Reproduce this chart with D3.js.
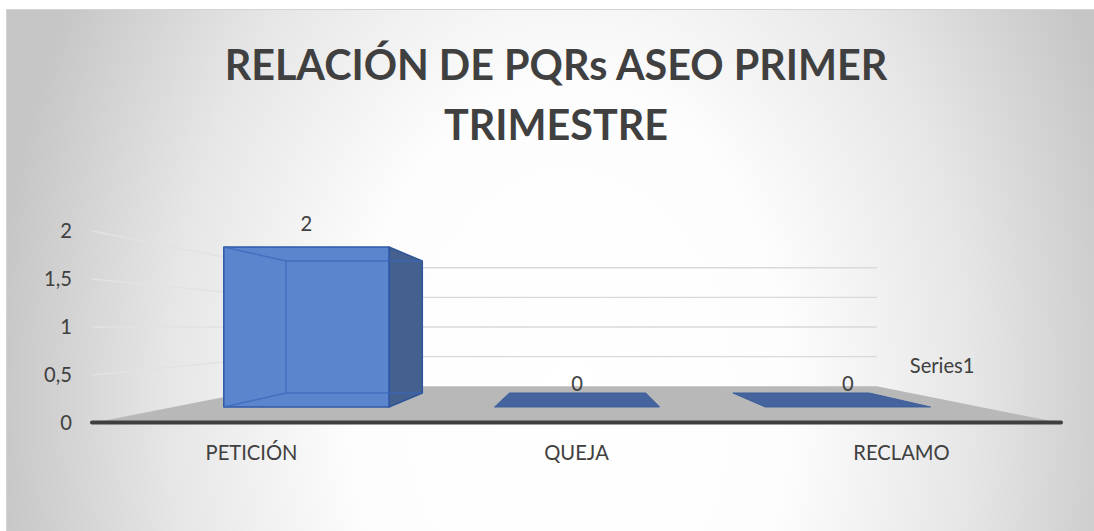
<!DOCTYPE html>
<html>
<head>
<meta charset="utf-8">
<script src="https://cdn.jsdelivr.net/npm/d3@7"></script>
<style>
  body { margin: 0; background: #fff; }
  svg { display: block; }
</style>
</head>
<body>
<div id="chart"></div>
<script>
// chart data
const titleLines = ['RELACIÓN DE PQRs ASEO PRIMER', 'TRIMESTRE'];
const categories = ['PETICIÓN', 'QUEJA', 'RECLAMO'];
const values = [2, 0, 0];
const yTicks = [0, 0.5, 1, 1.5, 2];
const seriesName = 'Series1';

const W = 1094, H = 531;
const FONT = 'Lato, "Open Sans", sans-serif';

// simple perspective: points of the front plane shrink toward (vx, vy)
const vx = 580, vy = 327;
const sWall = 0.617, sBarFront = 0.833, sBarBack = 0.6875;
const floorLeft = 92, floorRight = 1061;
const P = (x0, y0, s) => [vx + (x0 - vx) * s, vy + (y0 - vy) * s];

const locale = d3.formatLocale({ decimal: ',', thousands: '.', grouping: [3], currency: ['$', ''] });
const fmt = locale.format('~g');

const svg = d3.select('#chart').append('svg')
  .attr('width', W)
  .attr('height', H);

const defs = svg.append('defs');
const bg = defs.append('radialGradient')
  .attr('id', 'bg')
  .attr('gradientUnits', 'userSpaceOnUse')
  .attr('cx', 0).attr('cy', 0).attr('r', 1)
  .attr('gradientTransform', 'translate(570,400) scale(575,820)');
bg.append('stop').attr('offset', 0).attr('stop-color', '#ffffff');
bg.append('stop').attr('offset', 0.38).attr('stop-color', '#fdfdfd');
bg.append('stop').attr('offset', 0.7).attr('stop-color', '#e6e6e6');
bg.append('stop').attr('offset', 1).attr('stop-color', '#c6c6c6');

svg.append('rect')
  .attr('x', 6.5).attr('y', 9.5)
  .attr('width', W).attr('height', H)
  .attr('fill', 'url(#bg)')
  .attr('stroke', '#d4d4d4');

function fitSize(text, weight, target) {
  const t = svg.append('text')
    .attr('font-family', FONT)
    .attr('font-weight', weight)
    .attr('font-size', 100)
    .text(text);
  const w = t.node().getComputedTextLength();
  t.remove();
  return 100 * target / w;
}

const titleSize = fitSize(titleLines[0], 'bold', 663);
const labelSize = fitSize(categories[0], 'normal', 92);

// title
svg.append('g').selectAll('text')
  .data(titleLines)
  .join('text')
  .attr('x', 556)
  .attr('y', (d, i) => 80 + i * 60)
  .attr('text-anchor', 'middle')
  .attr('font-family', FONT)
  .attr('font-weight', 'bold')
  .attr('font-size', titleSize)
  .attr('fill', '#404040')
  .text(d => d);

const x = d3.scaleBand()
  .domain(categories)
  .range([89, 1064])
  .paddingInner(0.39)
  .paddingOuter(0.195);

const y = d3.scaleLinear()
  .domain([0, 2])
  .range([423, 231]);

const line = d3.line();

// gridlines on side wall and back wall
const grid = svg.append('g');
grid.selectAll('path.side')
  .data(yTicks.filter(t => t > 0))
  .join('path')
  .attr('class', 'side')
  .attr('d', t => line([P(floorLeft, y(t), 1), P(floorLeft, y(t), sWall)]))
  .attr('stroke', '#e2e2e2')
  .attr('stroke-width', 1.6)
  .attr('fill', 'none');
grid.selectAll('path.back')
  .data(yTicks.filter(t => t > 0))
  .join('path')
  .attr('class', 'back')
  .attr('d', t => line([P(floorLeft, y(t), sWall), P(floorRight, y(t), sWall)]))
  .attr('stroke', '#d9d9d9')
  .attr('stroke-width', 1.4)
  .attr('fill', 'none');

// floor
svg.append('path')
  .attr('d', line([
    P(floorLeft, y(0), 1), P(floorLeft, y(0), sWall),
    P(floorRight, y(0), sWall), P(floorRight, y(0), 1)
  ]) + 'Z')
  .attr('fill', '#b8b8b8');

svg.append('line')
  .attr('x1', floorLeft).attr('x2', floorRight)
  .attr('y1', y(0) - 0.5).attr('y2', y(0) - 0.5)
  .attr('stroke', '#3f3f3f')
  .attr('stroke-width', 4)
  .attr('stroke-linecap', 'round');

// bars
const bars = svg.append('g').selectAll('g')
  .data(categories.map((c, i) => ({ c, v: values[i] })))
  .join('g');

bars.each(function(d) {
  const g = d3.select(this);
  const a = x(d.c), b = x(d.c) + x.bandwidth();
  const yt = y(d.v), yb = y(0);
  const poly = pts => line(pts) + 'Z';

  if (d.v === 0) {
    g.append('path')
      .attr('d', poly([P(a, yb, sBarFront), P(a, yb, sBarBack), P(b, yb, sBarBack), P(b, yb, sBarFront)]))
      .attr('fill', '#45649d')
      .attr('stroke', '#3d5e9c')
      .attr('stroke-width', 1);
    return;
  }

  // right side face
  g.append('path')
    .attr('d', poly([P(b, yt, sBarFront), P(b, yt, sBarBack), P(b, yb, sBarBack), P(b, yb, sBarFront)]))
    .attr('fill', '#44608f')
    .attr('stroke', '#2f559a')
    .attr('stroke-width', 1.5)
    .attr('stroke-linejoin', 'round');

  // front face (semi transparent look)
  g.append('path')
    .attr('d', poly([P(a, yt, sBarFront), P(b, yt, sBarFront), P(b, yb, sBarFront), P(a, yb, sBarFront)]))
    .attr('fill', '#5b86ce')
    .attr('stroke', '#2f5aa8')
    .attr('stroke-width', 1.5)
    .attr('stroke-linejoin', 'round');

  // hidden edges seen through the front
  const inner = [
    [P(a, yt, sBarFront), P(a, yt, sBarBack)],
    [P(a, yb, sBarFront), P(a, yb, sBarBack)],
    [P(a, yt, sBarBack), P(b, yt, sBarBack)],
    [P(a, yb, sBarBack), P(b, yb, sBarBack)],
    [P(a, yt, sBarBack), P(a, yb, sBarBack)]
  ];
  g.selectAll('path.inner')
    .data(inner)
    .join('path')
    .attr('class', 'inner')
    .attr('d', seg => line(seg))
    .attr('stroke', '#3a67b8')
    .attr('stroke-opacity', 0.75)
    .attr('stroke-width', 1.4)
    .attr('fill', 'none');
});

// value axis labels
svg.append('g').selectAll('text')
  .data(yTicks)
  .join('text')
  .attr('x', 72)
  .attr('y', t => y(t))
  .attr('dy', '0.35em')
  .attr('text-anchor', 'end')
  .attr('font-family', FONT)
  .attr('font-size', labelSize)
  .attr('fill', '#404040')
  .text(t => fmt(t));

// category labels
svg.append('g').selectAll('text')
  .data(categories)
  .join('text')
  .attr('x', c => x(c) + x.bandwidth() / 2)
  .attr('y', 453)
  .attr('dy', '0.35em')
  .attr('text-anchor', 'middle')
  .attr('font-family', FONT)
  .attr('font-size', labelSize)
  .attr('fill', '#404040')
  .text(c => c);

// data labels above the front face
svg.append('g').selectAll('text')
  .data(categories.map((c, i) => ({ c, v: values[i] })))
  .join('text')
  .attr('x', d => P(x(d.c) + x.bandwidth() / 2, y(d.v), sBarFront)[0])
  .attr('y', d => P(x(d.c) + x.bandwidth() / 2, y(d.v), sBarFront)[1] - 23)
  .attr('dy', '0.35em')
  .attr('text-anchor', 'middle')
  .attr('font-family', FONT)
  .attr('font-size', labelSize)
  .attr('fill', '#404040')
  .text(d => fmt(d.v));

// series (depth) axis label
const corner = P(floorRight, y(0), sWall);
svg.append('text')
  .attr('x', corner[0] + 33)
  .attr('y', corner[1] - 20)
  .attr('dy', '0.35em')
  .attr('font-family', FONT)
  .attr('font-size', labelSize)
  .attr('fill', '#404040')
  .text(seriesName);
</script>
</body>
</html>
